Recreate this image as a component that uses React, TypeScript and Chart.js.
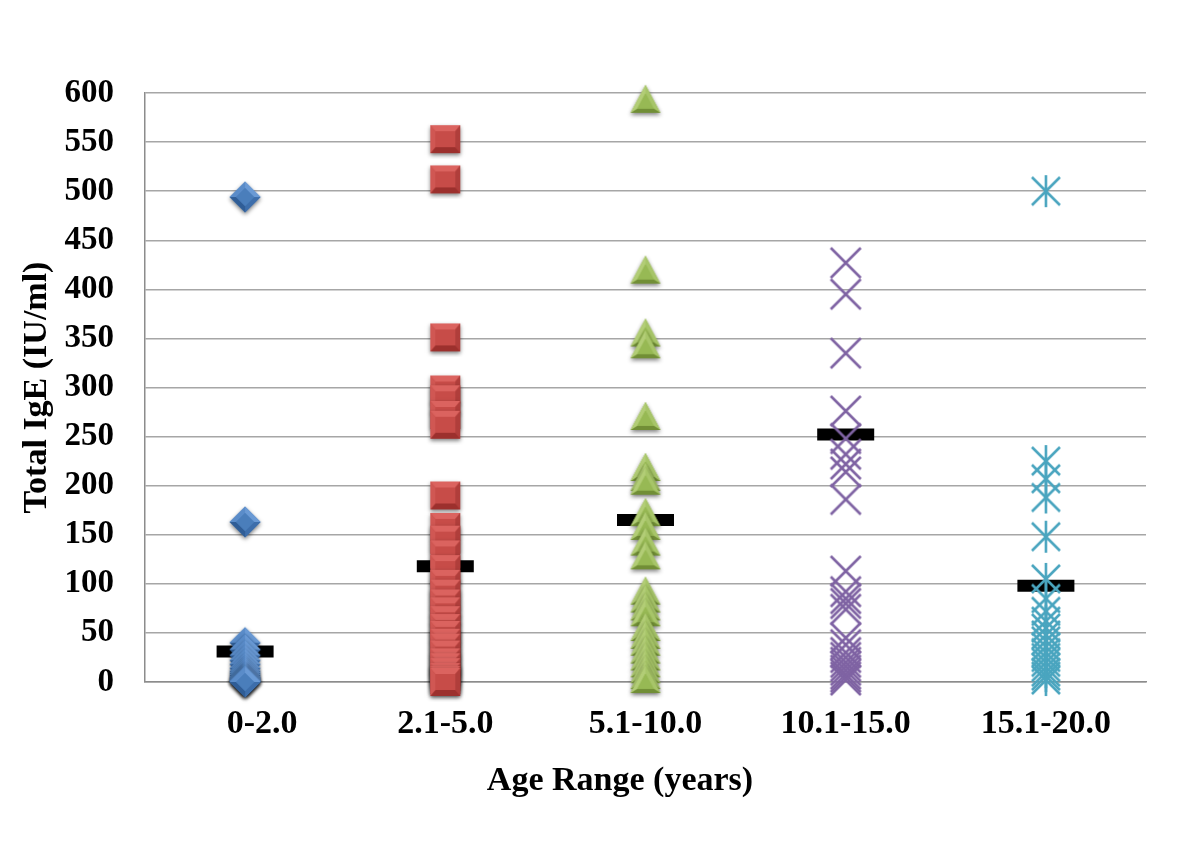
import React, { useEffect, useRef } from "react";
import { Chart, registerables } from "chart.js";

Chart.register(...registerables);

const categories = ["0-2.0", "2.1-5.0", "5.1-10.0", "10.1-15.0", "15.1-20.0"];
const yTicksMax = 600;
const yTickStep = 50;

const age0to2 = [494, 163, 40, 33, 27, 22, 18, 14, 11, 9, 7, 5, 4, 3, 2, 1, 1, 0];
const age2to5 = [553, 512, 351, 298, 288, 272, 262, 190, 158, 145, 130, 115, 100, 90, 80, 72, 63, 55, 48, 40, 35, 28, 20, 15, 10, 5, 2, 0];
const age5to10 = [593, 419, 355, 343, 270, 218, 208, 204, 172, 158, 142, 128, 92, 84, 76, 70, 55, 47, 40, 32, 25, 18, 12, 6, 2];
const age10to15 = [427, 395, 335, 276, 248, 232, 222, 214, 186, 113, 92, 85, 80, 74, 45, 38, 30, 25, 20, 16, 12, 8, 5, 2];
const age15to20 = [500, 225, 207, 188, 148, 105, 85, 72, 62, 55, 48, 42, 36, 30, 25, 20, 15, 10, 6, 2];
const meanValues = [31, 118, 165, 252, 98];

const xTitle = "Age Range (years)";
const yTitle = "Total IgE (IU/ml)";

type Shade = { base: string; light: string; lighter: string; dark: string; mid: string };

function mk(w: number, h: number) {
  const c = document.createElement("canvas");
  c.width = w;
  c.height = h;
  return c;
}

function poly(ctx: CanvasRenderingContext2D, pts: number[][], fill: string) {
  ctx.beginPath();
  ctx.moveTo(pts[0][0], pts[0][1]);
  for (let i = 1; i < pts.length; i++) ctx.lineTo(pts[i][0], pts[i][1]);
  ctx.closePath();
  ctx.fillStyle = fill;
  ctx.fill();
}

function bevelShape(outer: number[][], inner: number[][], faceColors: string[], s: Shade, pad: number, w: number, h: number) {
  const c = mk(w + pad * 2, h + pad * 2);
  const ctx = c.getContext("2d")!;
  ctx.translate(c.width / 2, c.height / 2);
  ctx.save();
  ctx.shadowColor = "rgba(0,0,0,0.5)";
  ctx.shadowBlur = 4;
  ctx.shadowOffsetY = 2;
  poly(ctx, outer, s.base);
  ctx.restore();
  const n = outer.length;
  for (let i = 0; i < n; i++) {
    const j = (i + 1) % n;
    poly(ctx, [outer[i], outer[j], inner[j], inner[i]], faceColors[i]);
  }
  poly(ctx, inner, s.base);
  return c;
}

function diamondImg(s: Shade) {
  const r = 15.5;
  const b = 9;
  const outer = [[0, -r], [r, 0], [0, r], [-r, 0]];
  const inner = [[0, -b], [b, 0], [0, b], [-b, 0]];
  return bevelShape(outer, inner, [s.lighter, s.mid, s.dark, s.light], s, 6, 32, 32);
}

function squareImg(s: Shade) {
  const hw = 15, hh = 14;
  const iw = 10, ih = 8;
  const outer = [[-hw, -hh], [hw, -hh], [hw, hh], [-hw, hh]];
  const inner = [[-iw, -ih], [iw, -ih], [iw, ih], [-iw, ih]];
  return bevelShape(outer, inner, [s.lighter, s.mid, s.dark, s.light], s, 6, 30, 28);
}

function triangleImg(s: Shade) {
  const hw = 15, top = -15, bot = 13;
  const outer = [[0, top], [hw, bot], [-hw, bot]];
  const cy = (top + bot + bot) / 3;
  const k = 0.55;
  const inner = outer.map(([x, y]) => [x * k, cy + (y - cy) * k]);
  return bevelShape(outer, inner, [s.light, s.dark, s.lighter], s, 6, 30, 30);
}

function crossImg(color: string) {
  const c = mk(36, 36);
  const ctx = c.getContext("2d")!;
  ctx.translate(18, 18);
  ctx.strokeStyle = color;
  ctx.lineWidth = 2.6;
  ctx.beginPath();
  ctx.moveTo(-15, -15);
  ctx.lineTo(15, 15);
  ctx.moveTo(15, -15);
  ctx.lineTo(-15, 15);
  ctx.stroke();
  return c;
}

function starImg(color: string) {
  const c = mk(36, 36);
  const ctx = c.getContext("2d")!;
  ctx.translate(18, 18);
  ctx.strokeStyle = color;
  ctx.lineWidth = 2.6;
  ctx.beginPath();
  ctx.moveTo(-14, -14);
  ctx.lineTo(14, 14);
  ctx.moveTo(14, -14);
  ctx.lineTo(-14, 14);
  ctx.moveTo(0, -16);
  ctx.lineTo(0, 16);
  ctx.stroke();
  return c;
}

const blue: Shade = { base: "#4a7ebb", light: "#5a8cc9", lighter: "#6a9ad5", dark: "#2f5d96", mid: "#3d6eab" };
const red: Shade = { base: "#c74c48", light: "#d05753", lighter: "#db635f", dark: "#9c302d", mid: "#b03e3b" };
const green: Shade = { base: "#97b954", light: "#a7c569", lighter: "#b2cd76", dark: "#718e36", mid: "#86a646" };

function pts(cat: number, vals: number[]) {
  return vals.map((v) => ({ x: categories[cat], y: v }));
}

export default function App() {
  const ref = useRef<HTMLCanvasElement | null>(null);
  useEffect(() => {
    if (!ref.current) return;
    const fontFamily = "'Liberation Serif', 'Times New Roman', serif";
    const mkSet = (cat: number, vals: number[], style: any) => ({
      data: pts(cat, vals),
      showLine: false,
      pointStyle: style,
      pointRadius: 15,
      borderWidth: 0,
      clip: false as any,
    });
    const chart = new Chart(ref.current, {
      type: "line",
      data: {
        labels: categories,
        datasets: [
          mkSet(0, age0to2, diamondImg(blue)),
          mkSet(1, age2to5, squareImg(red)),
          mkSet(2, age5to10, triangleImg(green)),
          mkSet(3, age10to15, crossImg("#7f63a3")),
          mkSet(4, age15to20, starImg("#4aa5bf")),
          {
            data: meanValues.map((v, i) => ({ x: categories[i], y: v })),
            showLine: false,
            pointStyle: "line",
            pointRadius: 28.5,
            pointBorderWidth: 12,
            pointBorderColor: "#000000",
            borderColor: "#000000",
            clip: false as any,
          },
        ] as any,
      },
      options: {
        animation: false,
        responsive: false,
        devicePixelRatio: 1,
        layout: { padding: { top: 93, right: 54, bottom: 0, left: 0 } },
        plugins: { legend: { display: false }, tooltip: { enabled: false } },
        scales: {
          x: {
            type: "category",
            offset: true,
            grid: { display: false, drawTicks: false },
            border: { color: "#8c8c8c", width: 1.5 },
            ticks: {
              color: "#000",
              font: { family: fontFamily, size: 34, weight: "bold" },
              padding: 22,
              maxRotation: 0,
              autoSkip: false,
              callback: (_v: any, i: number) => (i === 0 ? "\u2003" + categories[i] : categories[i]),
            },
            title: {
              display: true,
              text: xTitle + "      ",
              color: "#000",
              font: { family: fontFamily, size: 34, weight: "bold" },
              padding: { top: 0, bottom: 50 },
            },
            afterFit: (s: any) => {
              s.height = 170;
            },
          },
          y: {
            min: 0,
            max: yTicksMax,
            ticks: {
              stepSize: yTickStep,
              color: "#000",
              font: { family: fontFamily, size: 33, weight: "bold" },
              padding: 31,
            },
            grid: { color: "#a6a6a6", lineWidth: 1.5, drawTicks: false },
            border: { color: "#8c8c8c", width: 1.5 },
            title: {
              display: true,
              text: yTitle,
              color: "#000",
              font: { family: fontFamily, size: 34, weight: "bold" },
              padding: { top: 17, bottom: 0 },
            },
            afterFit: (s: any) => {
              s.width = 145;
            },
          },
        },
      } as any,
    });
    return () => chart.destroy();
  }, []);
  return (
    <div style={{ position: "absolute", left: 0, top: 0, width: 1200, height: 852, background: "#fff" }}>
      <canvas ref={ref} width={1200} height={852} style={{ display: "block" }} />
    </div>
  );
}
